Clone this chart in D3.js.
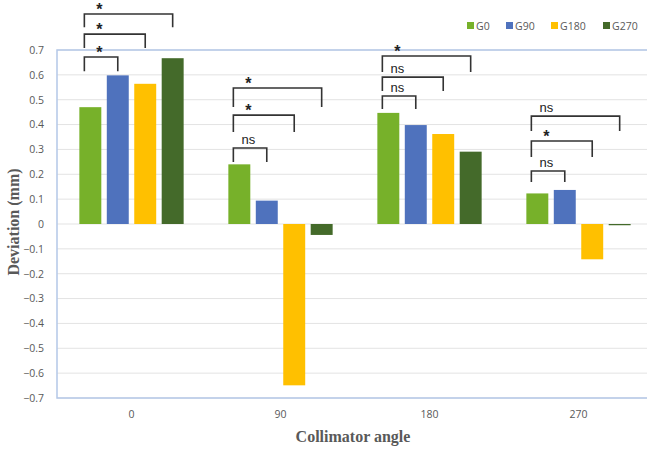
<!DOCTYPE html>
<html>
<head>
<meta charset="utf-8">
<script src="https://cdn.jsdelivr.net/npm/d3@7"></script>
<style>
  body { margin: 0; background: #fff; }
  svg { display: block; }
  .tick text { font-family: "Open Sans", "Liberation Sans", sans-serif; fill: #595959; font-size: 10.5px; }
  .title { font-family: "Liberation Serif", "Times New Roman", serif; font-weight: bold; font-size: 16px; fill: #595959; }
</style>
</head>
<body>
<svg width="647" height="450"></svg>
<script>
// data
var angles = ["0", "90", "180", "270"];
var series = ["G0", "G90", "G180", "G270"];
var colors = ["#77b12a", "#4f72bd", "#ffc000", "#446a2a"];
var g0 = [0.47, 0.24, 0.447, 0.123];
var g90 = [0.598, 0.094, 0.398, 0.137];
var g180 = [0.564, -0.649, 0.362, -0.142];
var g270 = [0.667, -0.044, 0.291, -0.005];
var yTicks = [0.7, 0.6, 0.5, 0.4, 0.3, 0.2, 0.1, 0, -0.1, -0.2, -0.3, -0.4, -0.5, -0.6, -0.7];

// significance brackets: angle, compared series, label, bracket top, leg bottom (mm)
var brAngle = ["0", "0", "0", "90", "90", "90", "180", "180", "180", "270", "270", "270"];
var brTo = ["G90", "G180", "G270", "G90", "G180", "G270", "G90", "G180", "G270", "G90", "G180", "G270"];
var brLabel = ["*", "*", "*", "ns", "*", "*", "ns", "ns", "*", "ns", "*", "ns"];
var brTop = [0.672, 0.764, 0.845, 0.306, 0.438, 0.547, 0.515, 0.591, 0.676, 0.213, 0.334, 0.434];
var brBottom = [0.615, 0.708, 0.792, 0.249, 0.370, 0.471, 0.463, 0.535, 0.611, 0.169, 0.270, 0.374];

var values = [g0, g90, g180, g270];
var rows = [];
series.forEach(function(s, i) {
  angles.forEach(function(a, j) {
    rows.push({ angle: a, series: s, value: values[i][j] });
  });
});

var svg = d3.select("svg"),
    margin = { top: 50, right: -6, bottom: 52, left: 57 },
    width = +svg.attr("width") - margin.left - margin.right,
    height = +svg.attr("height") - margin.top - margin.bottom;

var x0 = d3.scaleBand().domain(angles).range([0, width]).paddingInner(0.3).paddingOuter(0.15),
    x1 = d3.scaleBand().domain(series).range([0, x0.bandwidth()]).paddingInner(0.2),
    y = d3.scaleLinear().domain([-0.7, 0.7]).range([height, 0]),
    color = d3.scaleOrdinal().domain(series).range(colors);

var g = svg.append("g")
    .attr("transform", "translate(" + margin.left + "," + margin.top + ")");

// gridlines
g.append("g")
  .selectAll("line")
  .data(yTicks)
  .enter().append("line")
    .attr("x1", 0)
    .attr("x2", width)
    .attr("y1", function(d) { return y(d); })
    .attr("y2", function(d) { return y(d); })
    .style("stroke", "#e3e3e3")
    .style("stroke-width", 1);

// plot border
g.append("rect")
  .attr("x", 0)
  .attr("y", 0)
  .attr("width", width)
  .attr("height", height)
  .style("fill", "none")
  .style("stroke", "#b4c7e7")
  .style("stroke-width", 1.5);

// y axis
g.append("g")
  .call(d3.axisLeft(y).tickValues(yTicks).tickSize(0).tickPadding(13).tickFormat(d3.format("")))
  .call(function(a) { a.select(".domain").remove(); });

// x axis
g.append("g")
  .attr("transform", "translate(0," + height + ")")
  .call(d3.axisBottom(x0).tickSize(0).tickPadding(13))
  .call(function(a) { a.select(".domain").remove(); });

// bars
g.selectAll(".bar")
  .data(rows)
  .enter().append("rect")
    .attr("class", "bar")
    .attr("x", function(d) { return x0(d.angle) + x1(d.series); })
    .attr("y", function(d) { return y(Math.max(0, d.value)); })
    .attr("width", x1.bandwidth())
    .attr("height", function(d) { return Math.abs(y(d.value) - y(0)); })
    .style("fill", function(d) { return color(d.series); });

// brackets
var br = g.selectAll(".bracket")
  .data(brAngle.map(function(a, i) {
    return { angle: a, to: brTo[i], label: brLabel[i], top: brTop[i], bottom: brBottom[i] };
  }))
  .enter().append("g")
    .attr("class", "bracket");

br.append("path")
  .attr("d", function(d) {
    var xl = x0(d.angle) + x1("G0") + 5,
        xr = x0(d.angle) + x1(d.to) + x1.bandwidth() / 2;
    return "M" + xl + "," + y(d.bottom) + "V" + y(d.top) + "H" + xr + "V" + y(d.bottom);
  })
  .style("fill", "none")
  .style("stroke", "#333")
  .style("stroke-width", 1.6);

// star sits just under its baseline line, "ns" a bit above the bracket
br.append("text")
  .attr("x", function(d) { return x0(d.angle) + x1("G0") + 20; })
  .attr("y", function(d) { return y(d.top) + (d.label === "*" ? 1 : -4); })
  .attr("text-anchor", "middle")
  .style("font-family", "'Liberation Sans', Arial, sans-serif")
  .style("font-size", function(d) { return d.label === "*" ? "16px" : "13px"; })
  .style("font-weight", function(d) { return d.label === "*" ? "bold" : "normal"; })
  .style("fill", "#222")
  .text(function(d) { return d.label; });

// legend
var legendX = [467, 506, 551, 603];
var legend = svg.selectAll(".legend")
  .data(series)
  .enter().append("g")
    .attr("class", "legend")
    .attr("transform", function(d, i) { return "translate(" + legendX[i] + ",22)"; });

legend.append("rect")
  .attr("width", 7)
  .attr("height", 7)
  .style("fill", function(d) { return color(d); });

legend.append("text")
  .attr("x", 9)
  .attr("y", 7.5)
  .style("font-family", "'Open Sans', 'Liberation Sans', sans-serif")
  .style("font-size", "10.5px")
  .style("fill", "#595959")
  .text(function(d) { return d; });

// axis titles
svg.append("text")
  .attr("class", "title")
  .attr("transform", "translate(19,222) rotate(-90)")
  .attr("text-anchor", "middle")
  .text("Deviation (mm)");

svg.append("text")
  .attr("class", "title")
  .attr("x", 353)
  .attr("y", 442)
  .attr("text-anchor", "middle")
  .text("Collimator angle");
</script>
</body>
</html>
